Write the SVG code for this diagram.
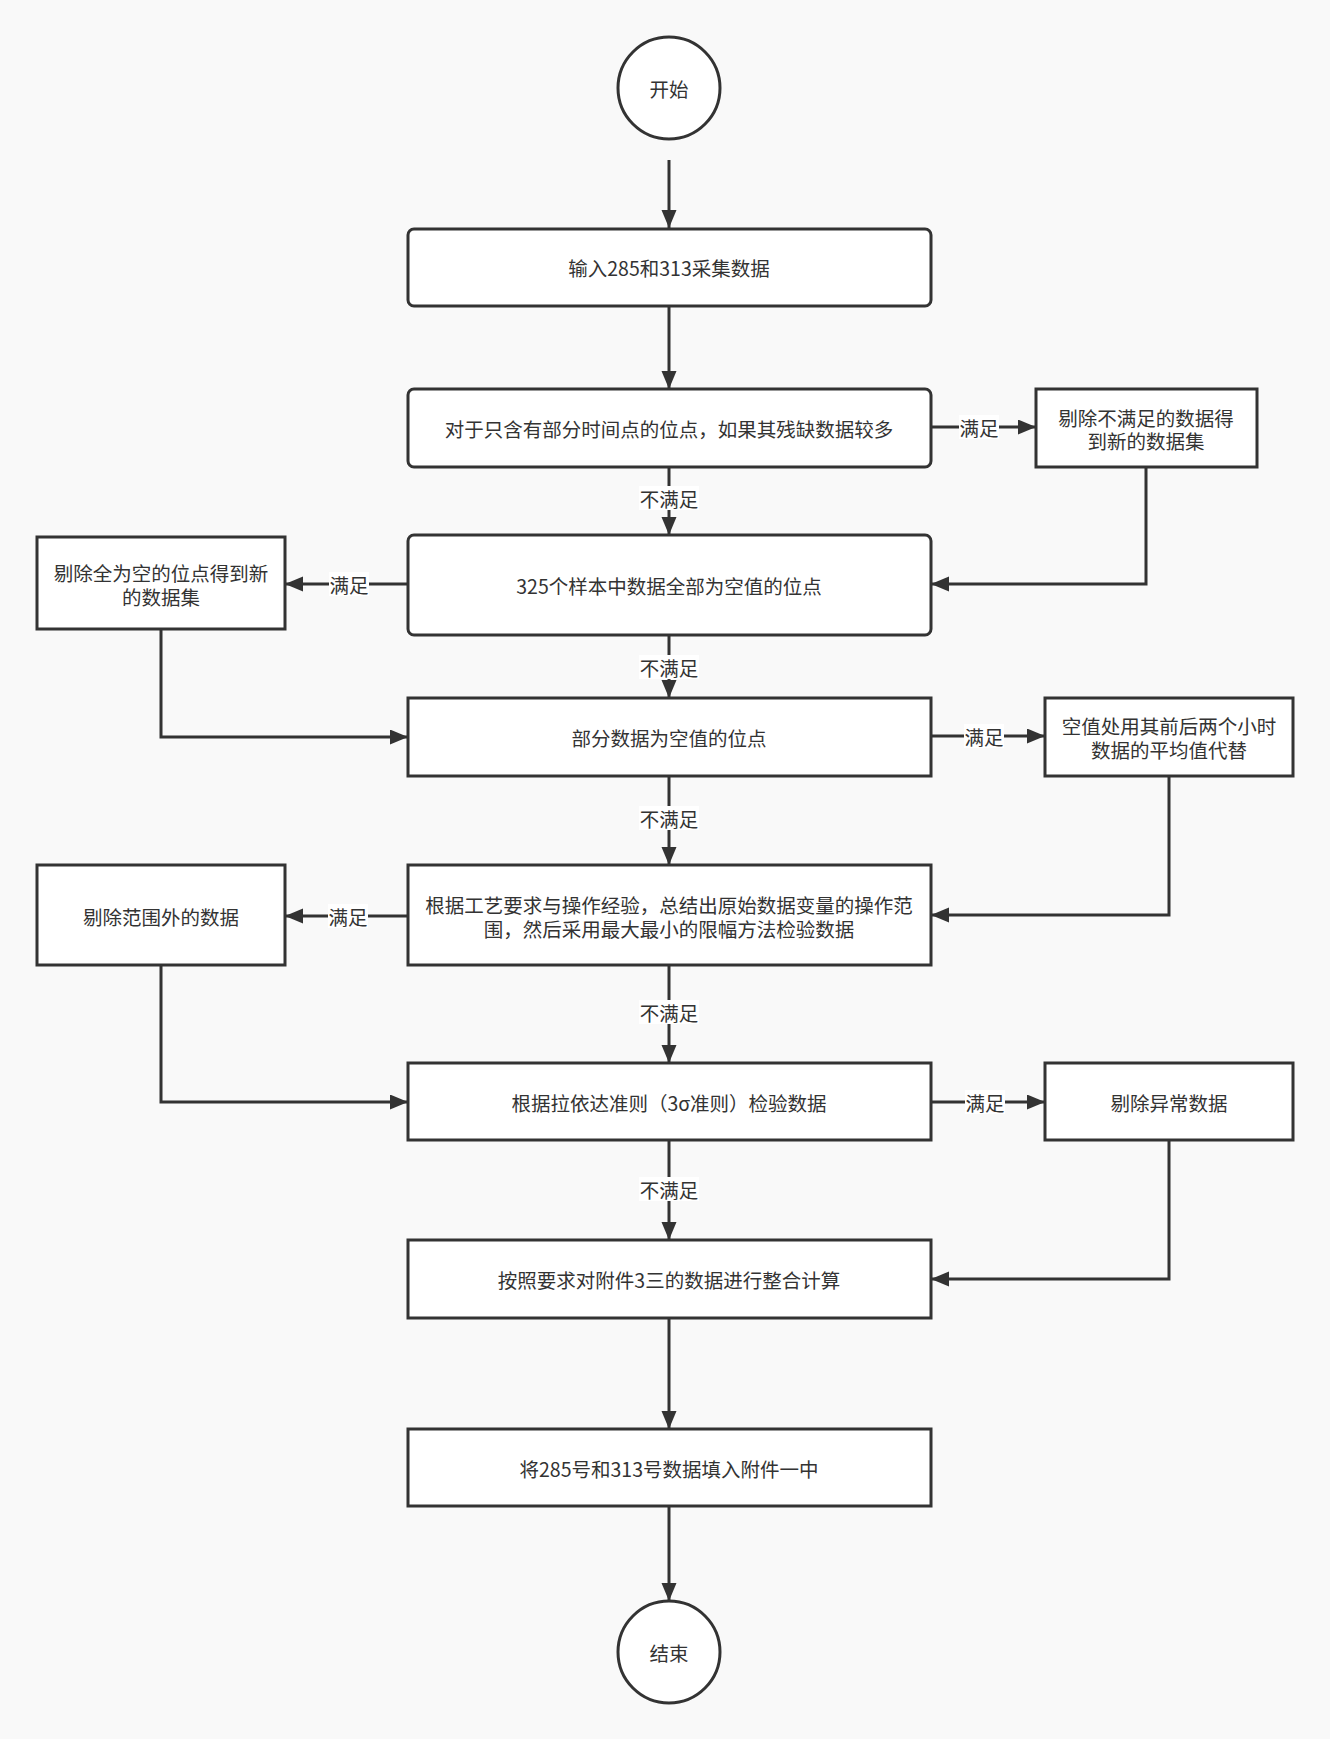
<svg xmlns="http://www.w3.org/2000/svg" width="1330" height="1739" viewBox="0 0 1330 1739">
<defs>
<style>
.bg{fill:#f9f9f9}
.n{fill:#ffffff;stroke:#333333;stroke-width:3}
.t{font-family:"Noto Sans CJK SC","Microsoft YaHei",sans-serif;font-size:19.5px;fill:#333333;text-anchor:middle;dominant-baseline:central}
.e{fill:none;stroke:#333333;stroke-width:3}
.lb{fill:#ffffff}
</style>
<marker id="arr" markerUnits="userSpaceOnUse" markerWidth="20" markerHeight="16" refX="18" refY="7.5" orient="auto">
<path d="M0,0 L18,7.5 L0,15 z" fill="#333333"/>
</marker>
</defs>
<rect class="bg" x="0" y="0" width="1330" height="1739"/>

<g id="connectors">
<path class="e" d="M669,160 L669,228" marker-end="url(#arr)"/>
<path class="e" d="M669,306 L669,389" marker-end="url(#arr)"/>
<path class="e" d="M931,427 L1036,427" marker-end="url(#arr)"/>
<path class="e" d="M669,467 L669,535" marker-end="url(#arr)"/>
<path class="e" d="M1146,467 L1146,584 L931,584" marker-end="url(#arr)"/>
<path class="e" d="M408,584 L285,584" marker-end="url(#arr)"/>
<path class="e" d="M669,635 L669,698" marker-end="url(#arr)"/>
<path class="e" d="M161,629 L161,737 L408,737" marker-end="url(#arr)"/>
<path class="e" d="M931,736 L1045,736" marker-end="url(#arr)"/>
<path class="e" d="M669,776 L669,865" marker-end="url(#arr)"/>
<path class="e" d="M1169,776 L1169,915 L931,915" marker-end="url(#arr)"/>
<path class="e" d="M408,916 L285,916" marker-end="url(#arr)"/>
<path class="e" d="M669,965 L669,1063" marker-end="url(#arr)"/>
<path class="e" d="M161,965 L161,1102 L408,1102" marker-end="url(#arr)"/>
<path class="e" d="M931,1102 L1045,1102" marker-end="url(#arr)"/>
<path class="e" d="M669,1140 L669,1240" marker-end="url(#arr)"/>
<path class="e" d="M1169,1140 L1169,1279 L931,1279" marker-end="url(#arr)"/>
<path class="e" d="M669,1318 L669,1429" marker-end="url(#arr)"/>
<path class="e" d="M669,1506 L669,1601" marker-end="url(#arr)"/>

<rect class="lb" x="959" y="415" width="40" height="24"/>
<text class="t" x="979" y="427">满足</text>
<rect class="lb" x="639" y="486" width="60" height="24"/>
<text class="t" x="669" y="498">不满足</text>
<rect class="lb" x="329" y="572" width="40" height="24"/>
<text class="t" x="349" y="584">满足</text>
<rect class="lb" x="639" y="655" width="60" height="24"/>
<text class="t" x="669" y="667">不满足</text>
<rect class="lb" x="964" y="724" width="40" height="24"/>
<text class="t" x="984" y="736">满足</text>
<rect class="lb" x="639" y="806" width="60" height="24"/>
<text class="t" x="669" y="818">不满足</text>
<rect class="lb" x="328" y="904" width="40" height="24"/>
<text class="t" x="348" y="916">满足</text>
<rect class="lb" x="639" y="1000" width="60" height="24"/>
<text class="t" x="669" y="1012">不满足</text>
<rect class="lb" x="965" y="1090" width="40" height="24"/>
<text class="t" x="985" y="1102">满足</text>
<rect class="lb" x="639" y="1177" width="60" height="24"/>
<text class="t" x="669" y="1189">不满足</text>
</g>

<g id="start">
<circle class="n" cx="669" cy="88" r="51"/>
<text class="t" x="669" y="88">开始</text>
</g>
<g id="input">
<rect class="n" x="408" y="229" width="523" height="77" rx="6"/>
<text class="t" x="669" y="267">输入285和313采集数据</text>
</g>
<g id="partial-time">
<rect class="n" x="408" y="389" width="523" height="78" rx="6"/>
<text class="t" x="669" y="428">对于只含有部分时间点的位点，如果其残缺数据较多</text>
</g>
<g id="remove-unsatisfied">
<rect class="n" x="1036" y="389" width="221" height="78"/>
<text class="t" x="1146" y="417">剔除不满足的数据得</text>
<text class="t" x="1146" y="440">到新的数据集</text>
</g>
<g id="all-empty">
<rect class="n" x="408" y="535" width="523" height="100" rx="6"/>
<text class="t" x="669" y="585">325个样本中数据全部为空值的位点</text>
</g>
<g id="remove-all-empty">
<rect class="n" x="37" y="537" width="248" height="92"/>
<text class="t" x="161" y="572">剔除全为空的位点得到新</text>
<text class="t" x="161" y="596">的数据集</text>
</g>
<g id="partial-empty">
<rect class="n" x="408" y="698" width="523" height="78"/>
<text class="t" x="669" y="737">部分数据为空值的位点</text>
</g>
<g id="fill-average">
<rect class="n" x="1045" y="698" width="248" height="78"/>
<text class="t" x="1169" y="725">空值处用其前后两个小时</text>
<text class="t" x="1169" y="749">数据的平均值代替</text>
</g>
<g id="range-check">
<rect class="n" x="408" y="865" width="523" height="100"/>
<text class="t" x="669" y="904">根据工艺要求与操作经验，总结出原始数据变量的操作范</text>
<text class="t" x="669" y="928">围，然后采用最大最小的限幅方法检验数据</text>
</g>
<g id="remove-out-range">
<rect class="n" x="37" y="865" width="248" height="100"/>
<text class="t" x="161" y="916">剔除范围外的数据</text>
</g>
<g id="pauta">
<rect class="n" x="408" y="1063" width="523" height="77"/>
<text class="t" x="669" y="1102">根据拉依达准则（3σ准则）检验数据</text>
</g>
<g id="remove-abnormal">
<rect class="n" x="1045" y="1063" width="248" height="77"/>
<text class="t" x="1169" y="1102">剔除异常数据</text>
</g>
<g id="integrate">
<rect class="n" x="408" y="1240" width="523" height="78"/>
<text class="t" x="669" y="1279">按照要求对附件3三的数据进行整合计算</text>
</g>
<g id="fill-in">
<rect class="n" x="408" y="1429" width="523" height="77"/>
<text class="t" x="669" y="1468">将285号和313号数据填入附件一中</text>
</g>
<g id="end">
<circle class="n" cx="669" cy="1652" r="51"/>
<text class="t" x="669" y="1652">结束</text>
</g>
</svg>
